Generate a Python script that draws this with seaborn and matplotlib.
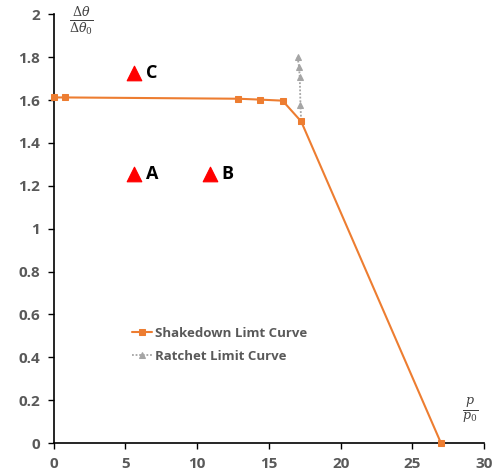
import matplotlib
matplotlib.use("Agg")
import matplotlib.pyplot as plt
import seaborn as sns
import pandas as pd

# Data
shake_x = [0.0, 0.8, 12.85, 14.35, 15.95, 17.25, 27.0]
shake_y = [1.612, 1.612, 1.606, 1.602, 1.597, 1.5, 0.0]
ratchet_x = [17.0, 17.1, 17.15, 17.2, 17.25]
ratchet_y = [1.80, 1.755, 1.705, 1.575, 1.5]
pt_labels = ["A", "B", "C"]
pt_x = [5.6, 10.9, 5.6]
pt_y = [1.255, 1.255, 1.728]
x_ticks = [0, 5, 10, 15, 20, 25, 30]
y_ticks = [0, 0.2, 0.4, 0.6, 0.8, 1, 1.2, 1.4, 1.6, 1.8, 2]

sns.set_style("white")
plt.rcParams['font.family'] = ['Open Sans', 'DejaVu Sans']
plt.rcParams['mathtext.fontset'] = 'dejavuserif'

fig = plt.figure(figsize=(4.98, 4.74), dpi=100)
ax = fig.add_axes([0.108, 0.065, 0.864, 0.905])

df_s = pd.DataFrame({"x": shake_x, "y": shake_y})
df_r = pd.DataFrame({"x": ratchet_x, "y": ratchet_y})
df_p = pd.DataFrame({"x": pt_x, "y": pt_y, "lab": pt_labels})

orange = "#ED7D31"
gray = "#A5A5A5"

sns.lineplot(data=df_r, x="x", y="y", sort=False, ax=ax, color=gray,
             linestyle=(0, (1, 1)), linewidth=1.3, marker="^", markersize=5,
             markeredgecolor=gray, label="Ratchet Limit Curve", zorder=2)
sns.lineplot(data=df_s, x="x", y="y", sort=False, ax=ax, color=orange,
             linewidth=1.5, marker="s", markersize=5, markeredgecolor=orange,
             label="Shakedown Limt Curve", zorder=3)
for ln in ax.lines:
    ln.set_clip_on(False)
sns.scatterplot(data=df_p, x="x", y="y", ax=ax, marker="^", s=110,
                color="#FF0000", edgecolor="#FF0000", zorder=4, legend=False)
for lab, xx, yy in zip(pt_labels, pt_x, pt_y):
    ax.text(xx + 0.8, yy, lab, fontsize=13, fontweight="bold",
            color="black", va="center", ha="left")

ax.set_xlim(0, 30)
ax.set_ylim(0, 2)
ax.set_xticks(x_ticks)
ax.set_yticks(y_ticks)
ax.set_xticklabels([str(t) for t in x_ticks])
ax.set_yticklabels(["0", "0.2", "0.4", "0.6", "0.8", "1", "1.2", "1.4", "1.6", "1.8", "2"])
for lbl in ax.get_xticklabels() + ax.get_yticklabels():
    lbl.set_fontweight("bold")
    lbl.set_color("#595959")
    lbl.set_fontsize(11)
ax.tick_params(axis="both", direction="out", length=4, width=1, color="black",
               bottom=True, left=True, pad=6)
ax.set_xlabel("")
ax.set_ylabel("")
for s in ["top", "right"]:
    ax.spines[s].set_visible(False)
for s in ["left", "bottom"]:
    ax.spines[s].set_color("black")
    ax.spines[s].set_linewidth(1.2)

ax.text(0.065, 0.984, r"$\frac{\Delta\theta}{\Delta\theta_0}$", transform=ax.transAxes,
        fontsize=13, color="#404040", ha="center", va="center")
ax.text(0.967, 0.077, r"$\frac{p}{p_0}$", transform=ax.transAxes,
        fontsize=13, color="#404040", ha="center", va="center")

h, l = ax.get_legend_handles_labels()
order = [1, 0]
leg = ax.legend([h[i] for i in order], [l[i] for i in order], loc="lower left",
                bbox_to_anchor=(0.155, 0.16), frameon=False, fontsize=9.5,
                handlelength=1.5, handletextpad=0.2, labelspacing=0.75)
for t in leg.get_texts():
    t.set_fontweight("bold")
    t.set_color("#595959")

fig.savefig("out.png", dpi=100)
